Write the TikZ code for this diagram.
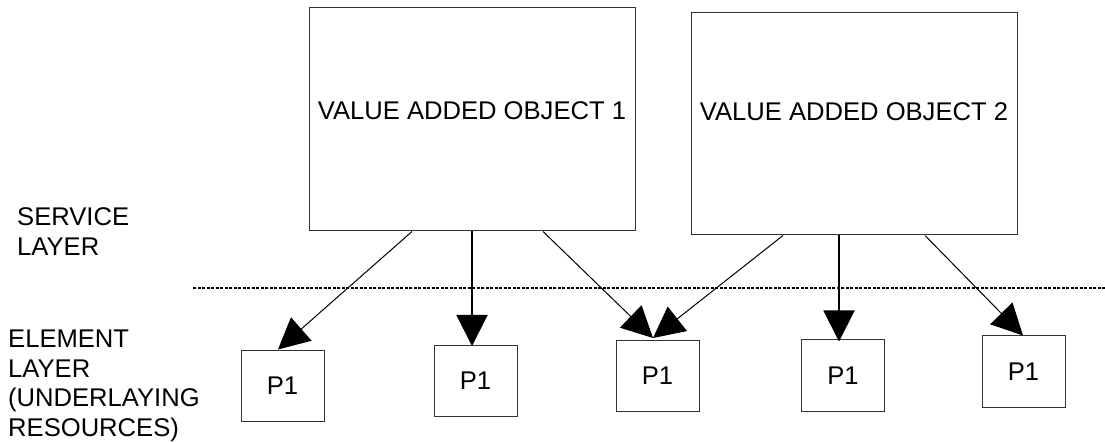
\documentclass[tikz,border=0pt]{standalone}
\usepackage{fontspec}
\setmainfont{Liberation Sans}
\usetikzlibrary{arrows.meta,calc}
\begin{document}
\begin{tikzpicture}[x=1pt,y=-1pt,
  every node/.style={font=\fontsize{25.6}{29.7}\selectfont},
  vaobox/.style={draw=black!80,line width=1pt,inner sep=0pt,minimum width=326pt},
  pbox/.style={draw=black!80,line width=1pt,inner sep=0pt,minimum width=83pt,minimum height=71pt},
  layertext/.style={anchor=north west,inner sep=0pt,align=left},
  thinarrow/.style={line width=1pt,-{Triangle[length=31pt,width=31pt]}},
  thickarrow/.style={line width=2pt,-{Triangle[length=31pt,width=31pt]}},
  layerline/.style={line width=1.5pt,dash pattern=on 3pt off 1.5pt}
]
\useasboundingbox (0,0) rectangle (1105,443);
\fill[white] (0,0) rectangle (1105,443);

% value added objects
\node[vaobox,minimum height=223pt,text height=1pt,text depth=0pt] (v1) at (472,119.5) {VALUE ADDED OBJECT 1};
\node[vaobox,minimum height=222pt,text height=0pt,text depth=6pt] (v2) at (854,124) {VALUE ADDED OBJECT 2};

% element boxes
\node[pbox] (q1) at (282.5,385.5) {P1};
\node[pbox] (q2) at (475.5,381) {P1};
\node[pbox] (q3) at (657.5,376) {P1};
\node[pbox] (q4) at (843,375.5) {P1};
\node[pbox] (q5) at (1023.5,371.5) {P1};

% layer labels
\node[layertext] (sl) at (17,207.5) {SERVICE\\LAYER};
\node[layertext] (el) at (8,329.5) {ELEMENT\\LAYER\\(UNDERLAYING\\RESOURCES)};

% layer separator
\coordinate (ls) at (193,288);
\coordinate (le) at (1105,288);
\draw[layerline] (ls) -- (le);

% connectors
\draw[thinarrow] ($(v1.south)+(-60,0)$) -- ($(q1.north)+(-4.5,0)$);
\draw[thickarrow] (v1.south) -- ($(q2.north)+(-3.5,1)$);
\draw[thinarrow] ($(v1.south)+(71,0)$) -- ($(q3.north)+(-4.5,-2)$);
\draw[thinarrow] ($(v2.south)+(-71,0)$) -- ($(q3.north)+(-4.5,-2)$);
\draw[thickarrow] ($(v2.south)+(-15,0)$) -- ($(q4.north)+(-4,2)$);
\draw[thinarrow] ($(v2.south)+(71,0)$) -- ($(q5.north)+(-0.5,0)$);
\end{tikzpicture}
\end{document}
